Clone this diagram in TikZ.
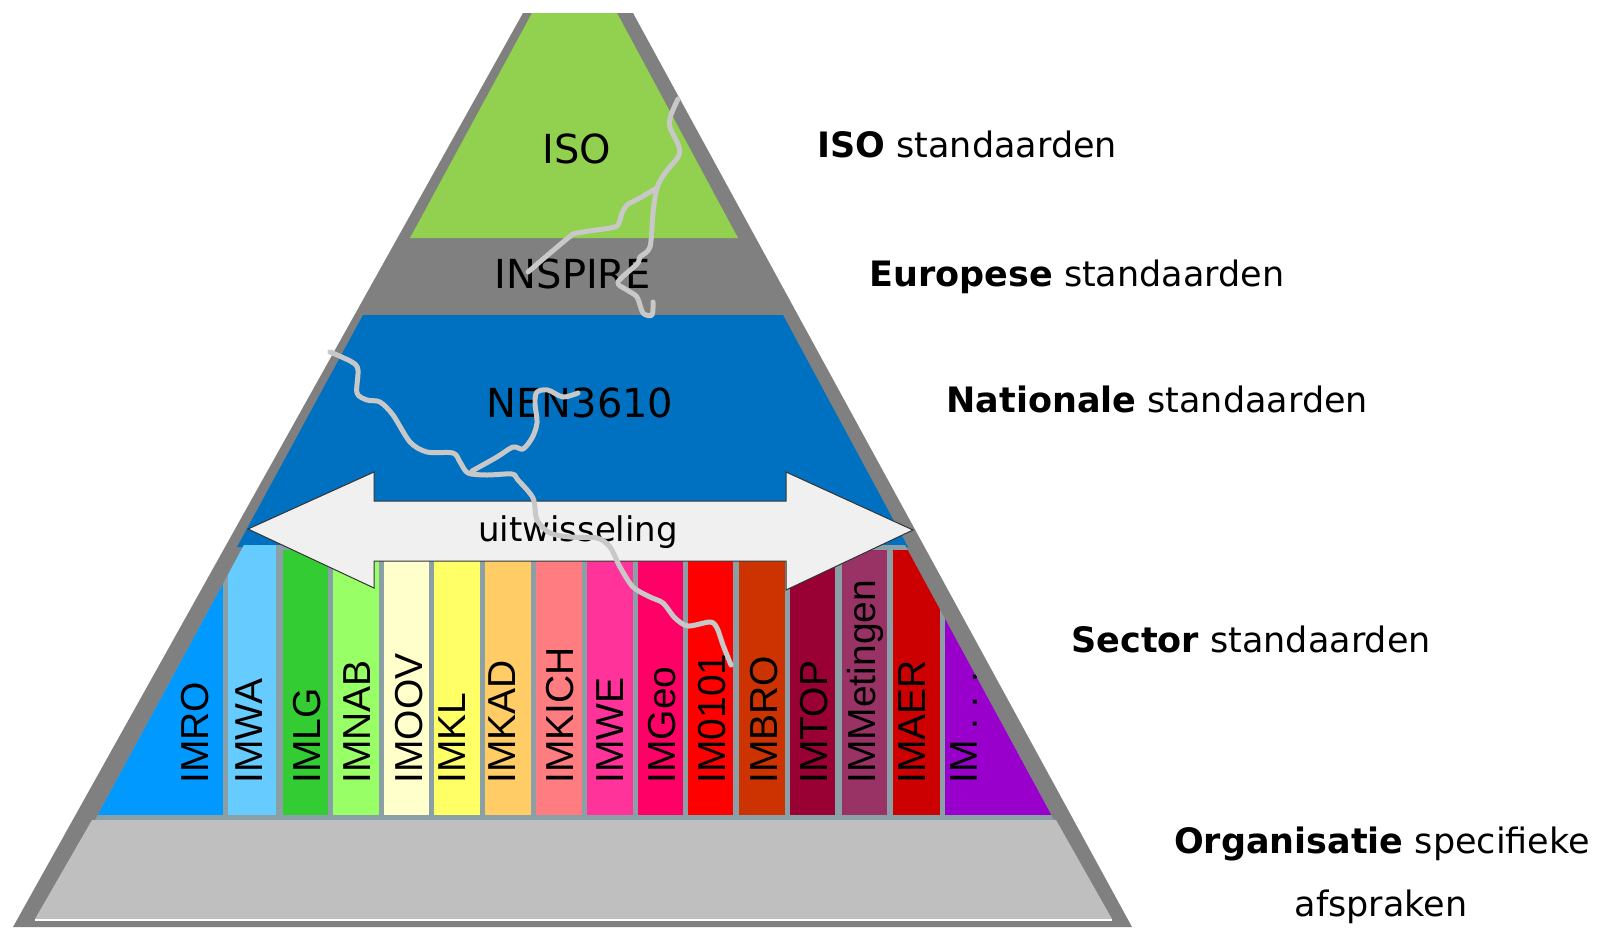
\documentclass[tikz,border=0pt]{standalone}
\usepackage{fontspec}
\setmainfont{DejaVu Sans}
\newfontfamily\imfont{Liberation Sans}
\definecolor{isogreen}{HTML}{92D050}
\definecolor{natblue}{HTML}{0070C0}
\definecolor{randgray}{HTML}{808080}
\definecolor{orggray}{HTML}{BFBFBF}
\definecolor{sepgray}{RGB}{138,160,166}
\definecolor{pijlfill}{HTML}{F0F0F0}
\definecolor{barstgray}{HTML}{C8C8C8}
\definecolor{imro}{HTML}{0099FF}
\definecolor{imwa}{HTML}{66CCFF}
\definecolor{imlg}{HTML}{33CC33}
\definecolor{imnab}{HTML}{99FF66}
\definecolor{imoov}{HTML}{FFFFCC}
\definecolor{imkl}{HTML}{FFFF66}
\definecolor{imkad}{HTML}{FFCC66}
\definecolor{imkich}{HTML}{FF7C80}
\definecolor{imwe}{HTML}{FF3399}
\definecolor{imgeo}{HTML}{FF0066}
\definecolor{imnul}{HTML}{FF0000}
\definecolor{imbro}{HTML}{CC3300}
\definecolor{imtop}{HTML}{990033}
\definecolor{immet}{HTML}{993366}
\definecolor{imaer}{HTML}{CC0000}
\definecolor{imrest}{HTML}{9900CC}
% one sector column: name, left, right, top, colour, baseline x, text
\newcommand{\imkolom}[7]{%
  \fill[#5] (#2,#4) rectangle (#3,815);
  \node[imlabel] (#1) at (#6,784) {#7};}

\begin{document}
\begin{tikzpicture}[x=0.5pt, y=-0.5pt,
  imlabel/.style={rotate=90, anchor=base west, inner sep=0pt, font=\imfont\fontsize{19.5pt}{22pt}\selectfont},
  laag/.style={inner sep=0pt, anchor=base, font=\fontsize{20pt}{24pt}\selectfont},
  kant/.style={inner sep=0pt, anchor=base west, font=\fontsize{17.5pt}{21pt}\selectfont},
  barst/.style={barstgray, line width=2.5pt, line cap=round, line join=round}]
  \useasboundingbox (0,0) rectangle (1601,927);

  % Outer pyramid
  \fill[randgray] (523,13) -- (633,13) -- (1132,927) -- (13,927) -- cycle;
  % ISO layer
  \fill[isogreen] (532,13) -- (617,13) -- (738,238) -- (410,238) -- cycle;
  % National layer
  \fill[natblue] (363,315) -- (783,315) -- (908,547) -- (237,547) -- cycle;

  % Sector columns
  \begin{scope}
    \clip (244,545) -- (905,545) -- (1054,820) -- (95,820) -- cycle;
    \fill[sepgray] (244,545) -- (905,545) -- (1054,820) -- (95,820) -- cycle;
    \imkolom{imro}{80}{223}{535}{imro}{208}{IMRO}
    \imkolom{imwa}{228}{276}{535}{imwa}{262}{IMWA}
    \imkolom{imlg}{283}{328}{550}{imlg}{320}{IMLG}
    \imkolom{imnab}{333}{379}{550}{imnab}{370}{IMNAB}
    \imkolom{imoov}{384}{429}{550}{imoov}{422}{IMOOV}
    \imkolom{imkl}{434}{480}{550}{imkl}{465}{IMKL}
    \imkolom{imkad}{485}{531}{550}{imkad}{515}{IMKAD}
    \imkolom{imkich}{536}{582}{550}{imkich}{573}{IMKICH}
    \imkolom{imwe}{587}{633}{550}{imwe}{623}{IMWE}
    \imkolom{imgeo}{638}{683}{550}{imgeo}{675}{IMGeo}
    \imkolom{imnul}{688}{733}{550}{imnul}{725}{IM0101}
    \imkolom{imbro}{739}{785}{550}{imbro}{777}{IMBRO}
    \imkolom{imtop}{790}{835}{550}{imtop}{827}{IMTOP}
    \imkolom{immet}{842}{887}{550}{immet}{875}{IMMetingen}
    \imkolom{imaer}{893}{940}{550}{imaer}{925}{IMAER}
    \imkolom{imrest}{945}{1100}{550}{imrest}{977}{IM . . .}
  \end{scope}

  % Organisation layer
  \fill[orggray] (92,820) -- (1056,820) -- (1112,919) -- (35,919) -- cycle;
  \draw[white, line width=1pt] (35,920) -- (1112,920);

  % Exchange arrow
  \draw[fill=pijlfill, draw=black!80, line width=0.5pt]
    (248,529) -- (374,472) -- (374,501) -- (786,501) -- (786,472) -- (913,530)
    -- (786,590) -- (786,561) -- (374,561) -- (374,588) -- cycle;
  \node[laag, font=\fontsize{17pt}{20pt}\selectfont] (uitw) at (578,541) {uitwisseling};

  % Layer names
  \node[laag] (iso) at (577,163) {ISO};
  \node[laag] (inspire) at (573,288) {INSPIRE};
  \node[laag] (nen) at (580,417) {NEN3610};

  % Labels right
  \node[kant] (lbliso) at (817,157) {\textbf{ISO} standaarden};
  \node[kant] (lbleu) at (869,286) {\textbf{Europese} standaarden};
  \node[kant] (lblnat) at (946,412) {\textbf{Nationale} standaarden};
  \node[kant] (lblsec) at (1071,652) {\textbf{Sector} standaarden};
  \node[kant, anchor=base] (lblorg) at (1382,853) {\textbf{Organisatie} specifieke};
  \node[kant, anchor=base] (lblafs) at (1381,916) {afspraken};

  % Cracks
  \draw[barst] plot[smooth, tension=0.5] coordinates {(678,99) (671,115) (670,127) (679,147)
    (678,157) (665,173) (657,188) (653,213) (650,247) (640,257) (637,264) (618,282)
    (627,290) (637,297) (643,313) (652,315) (653,302)};
  \draw[barst] plot[smooth, tension=0.5] coordinates {(657,188) (638,199) (627,205)
    (622,213) (618,225) (610,228) (577,233) (568,238) (528,272)};
  \draw[barst] plot[smooth, tension=0.5] coordinates {(330,352) (352,362) (358,370) (357,393)
    (367,400) (380,402) (393,415) (410,442) (427,452) (453,453) (460,462) (468,473)
    (487,475) (512,474) (518,480) (533,498) (537,520) (550,533) (570,537) (597,538)
    (610,547) (620,567) (633,587) (650,597) (663,603) (675,618) (688,626) (710,622)
    (717,628) (723,645) (731,665)};
  \draw[barst] plot[smooth, tension=0.5] coordinates {(472,471) (497,457) (513,447) (523,449)
    (532,438) (537,423) (535,403) (537,392) (548,390) (563,397) (578,393)};
\end{tikzpicture}
\end{document}
